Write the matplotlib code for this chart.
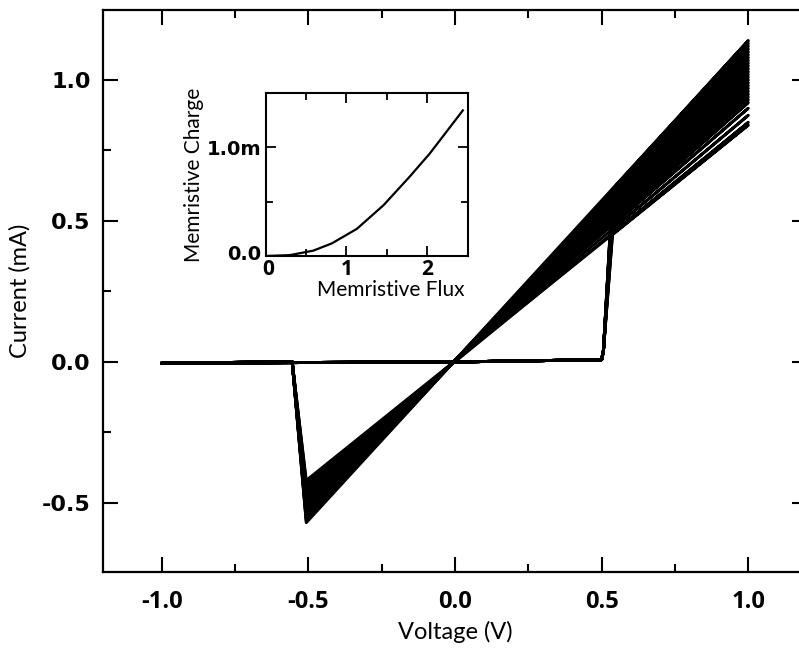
import matplotlib
matplotlib.use("Agg")
import matplotlib.pyplot as plt
import matplotlib.transforms as mtransforms
from matplotlib.ticker import FixedLocator, FuncFormatter

# ---------------- data ----------------
# Per-cycle ON-state currents (mA) read at V = +1.0 V and at the negative tip (V ~ -0.507 V)
i_top = [1.14, 1.13, 1.12, 1.11, 1.10, 1.09, 1.08, 1.07, 1.06, 1.05, 1.04, 1.03,
         1.02, 1.01, 1.00, 0.99, 0.98, 0.97, 0.96, 0.95, 0.94, 0.93, 0.92, 0.90,
         0.875, 0.85, 0.84]
i_bot = [-0.570, -0.565, -0.560, -0.555, -0.550, -0.545, -0.540, -0.535, -0.530,
         -0.525, -0.520, -0.515, -0.510, -0.505, -0.500, -0.495, -0.490, -0.485,
         -0.480, -0.475, -0.470, -0.465, -0.460, -0.450, -0.440, -0.430, -0.420]
# sweep vertices (V) common to all cycles
v_path = [-1.0, 0.0, 0.5, 0.506, 0.537, 1.0, -0.507, -0.555, -1.0]
# OFF-state currents (mA) at the first vertices / switching points
i_off = [-0.004, 0.0, 0.008, 0.04]
i_reset_end = 0.0

# inset: memristive flux vs charge
flux = [0.0, 0.3, 0.59, 0.82, 1.13, 1.46, 1.78, 2.03, 2.44]
charge = [0.0, 0.008e-3, 0.049e-3, 0.116e-3, 0.25e-3, 0.468e-3, 0.728e-3, 0.942e-3, 1.34e-3]

main_xticks = [-1.0, -0.5, 0.0, 0.5, 1.0]
main_yticks = [-0.5, 0.0, 0.5, 1.0]

# ---------------- figure ----------------
fig = plt.figure(figsize=(7.99, 6.5), dpi=100)
W, H = 799, 650
ax = fig.add_axes([103 / W, (H - 572) / H, (807 - 103) / W, (572 - 9.5) / H])

for top, bot in zip(i_top, i_bot):
    i_path = [i_off[0], i_off[1], i_off[2], i_off[3], top * 0.537, top, bot,
              i_reset_end, i_off[0]]
    ax.plot(v_path, i_path, color="black", lw=2.1, solid_joinstyle="round",
            solid_capstyle="round")

ax.set_xlim(-1.2, 1.2)
ax.set_ylim(-0.745, 1.25)
ax.xaxis.set_major_locator(FixedLocator(main_xticks))
ax.xaxis.set_minor_locator(FixedLocator([-0.75, -0.25, 0.25, 0.75]))
ax.yaxis.set_major_locator(FixedLocator(main_yticks))
ax.yaxis.set_minor_locator(FixedLocator([-0.25, 0.25, 0.75]))
ax.xaxis.set_major_formatter(FuncFormatter(lambda v, p: f"{v:.1f}"))
ax.yaxis.set_major_formatter(FuncFormatter(lambda v, p: f"{v:.1f}"))
ax.tick_params(which="both", direction="in", top=True, right=True, width=1.5, color="black")
ax.tick_params(which="major", length=11)
ax.tick_params(which="minor", length=6)
ax.tick_params(axis="x", pad=13)
ax.tick_params(axis="y", pad=9)
for s in ax.spines.values():
    s.set_linewidth(1.6)
for lab in ax.get_xticklabels():
    lab.set_fontfamily("Open Sans")
    lab.set_fontweight("bold")
    lab.set_fontsize(17)
for lab in ax.get_yticklabels():
    lab.set_fontfamily("DejaVu Sans")
    lab.set_fontweight("bold")
    lab.set_fontsize(16)
ax.set_xlabel("Voltage (V)", fontfamily="Lato", fontsize=17, labelpad=5)
ax.set_ylabel("Current (mA)", fontfamily="Lato", fontsize=17, labelpad=8)

# ---------------- inset ----------------
ins = fig.add_axes([265.5 / W, (H - 256) / H, (467.7 - 265.5) / W, (256 - 93) / H])
ins.plot(flux, charge, color="black", lw=1.6)
ins.set_xlim(0, 2.5)
ins.set_ylim(0, 1.5e-3)
ins.xaxis.set_major_locator(FixedLocator([0, 1, 2]))
ins.xaxis.set_minor_locator(FixedLocator([0.5, 1.5]))
ins.yaxis.set_major_locator(FixedLocator([0.0, 1.0e-3]))
ins.yaxis.set_minor_locator(FixedLocator([0.5e-3]))
ins.xaxis.set_major_formatter(FuncFormatter(lambda v, p: f"{v:.0f}"))
ins.yaxis.set_major_formatter(FuncFormatter(lambda v, p: "0.0" if v == 0 else f"{v*1e3:.1f}m"))
ins.tick_params(which="both", direction="in", top=True, right=True, width=1.3, color="black")
ins.tick_params(which="major", length=7)
ins.tick_params(which="minor", length=5)
ins.tick_params(axis="x", pad=2)
ins.tick_params(axis="y", pad=3)
for s in ins.spines.values():
    s.set_linewidth(1.5)
for lab in ins.get_xticklabels():
    lab.set_fontfamily("Open Sans")
    lab.set_fontweight("bold")
    lab.set_fontsize(15)
for lab in ins.get_yticklabels():
    lab.set_fontfamily("DejaVu Sans")
    lab.set_fontweight("bold")
    lab.set_fontsize(14)
# nudge the two corner labels apart so they do not collide
ytl = ins.yaxis.get_major_ticks()[0].label1
ytl.set_transform(ytl.get_transform() + mtransforms.ScaledTranslation(0, 4 / 100, fig.dpi_scale_trans))
xtl = ins.xaxis.get_major_ticks()[0].label1
xtl.set_transform(xtl.get_transform() + mtransforms.ScaledTranslation(3 / 100, 0, fig.dpi_scale_trans))

ins.set_xlabel("Memristive Flux", fontfamily="Lato", fontsize=15)
ins.xaxis.set_label_coords(0.62, -0.15)
ins.set_ylabel("Memristive Charge", fontfamily="Lato", fontsize=15, labelpad=2)

fig.savefig("out.png", dpi=100)
